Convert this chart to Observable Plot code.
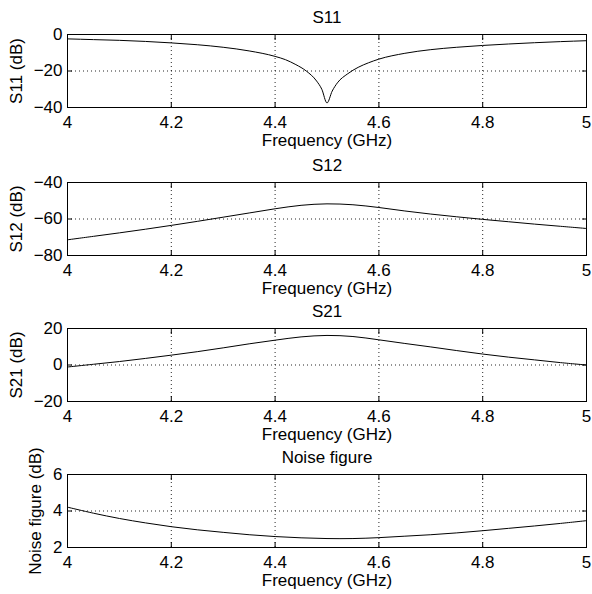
<!DOCTYPE html>
<html><head><meta charset="utf-8">
<script src="https://cdn.jsdelivr.net/npm/d3@7"></script>
<script src="https://cdn.jsdelivr.net/npm/@observablehq/plot@0.6"></script>
<style>
body{margin:0;background:#fff;}
#c{position:relative;width:592px;height:594px;overflow:hidden;}
#c svg{position:absolute;left:0;}
</style></head><body><div id="c"></div>
<script>
// Frequencies (GHz)
const freqS11 = [4.00,4.05,4.10,4.15,4.20,4.25,4.30,4.35,4.40,4.42,4.44,4.46,4.48,4.49,4.50,4.51,4.52,4.54,4.56,4.58,4.60,4.65,4.70,4.75,4.80,4.85,4.90,4.95,5.00];
const s11 = [-2.4,-2.8,-3.2,-3.8,-4.6,-5.6,-7.0,-9.0,-12.0,-13.8,-16.5,-20.0,-25.5,-30.0,-37.5,-31.0,-26.5,-21.5,-18.0,-15.5,-13.5,-10.3,-8.3,-7.0,-6.0,-5.2,-4.5,-3.9,-3.4];
const freq = [4.00,4.05,4.10,4.15,4.20,4.25,4.30,4.35,4.40,4.45,4.50,4.55,4.60,4.65,4.70,4.75,4.80,4.85,4.90,4.95,5.00];
const s12 = [-71.4,-69.5,-67.6,-65.6,-63.5,-61.3,-59.0,-56.7,-54.4,-52.5,-51.7,-52.2,-53.7,-55.6,-57.3,-58.8,-60.2,-61.5,-62.8,-64.0,-65.2];
const s21 = [-1.1,0.4,1.9,3.6,5.4,7.3,9.4,11.6,13.6,15.4,16.2,15.6,13.8,11.8,9.9,7.9,6.0,4.3,2.8,1.3,0.0];
const nf = [4.21,3.88,3.59,3.35,3.14,2.97,2.83,2.70,2.60,2.53,2.49,2.49,2.54,2.62,2.70,2.80,2.92,3.05,3.18,3.32,3.47];
const xTicks = [4, 4.2, 4.4, 4.6, 4.8, 5];
const titles = ["S11", "S12", "S21", "Noise figure"];
const yLabels = ["S11 (dB)", "S12 (dB)", "S21 (dB)", "Noise figure (dB)"];
const yTicksS11 = [-40, -20, 0];
const yTicksS12 = [-80, -60, -40];
const yTicksS21 = [-20, 0, 20];
const yTicksNF = [2, 4, 6];
const xLabel = "Frequency (GHz)";

const panels = [
  {title: titles[0], ylabel: yLabels[0], x: freqS11, y: s11, ticks: yTicksS11, top: 0, ylDx: -50.5, curve: "monotone-x"},
  {title: titles[1], ylabel: yLabels[1], x: freq, y: s12, ticks: yTicksS12, top: 148, ylDx: -50.5, curve: "catmull-rom"},
  {title: titles[2], ylabel: yLabels[2], x: freq, y: s21, ticks: yTicksS21, top: 294, ylDx: -50.5, curve: "catmull-rom"},
  {title: titles[3], ylabel: yLabels[3], x: freq, y: nf, ticks: yTicksNF, top: 440, ylDx: -32, curve: "catmull-rom"}
];

const fmt = d => (d < 0 ? "\u2212" : "") + Math.abs(d);
const container = document.getElementById("c");
const gridStyle = {stroke: "black", strokeOpacity: 0.85, strokeDasharray: "1,3", strokeWidth: 1};

for (const p of panels) {
  const data = p.x.map((x, i) => ({x, y: p.y[i]}));
  const svg = Plot.plot({
    width: 592, height: 154,
    marginLeft: 67, marginRight: 6, marginTop: 34, marginBottom: 47,
    style: {fontFamily: "'Liberation Sans', Arial, Helvetica, sans-serif", fontSize: "17px", background: "transparent", overflow: "visible", color: "black"},
    x: {domain: [4, 5]},
    y: {domain: [p.ticks[0], p.ticks[p.ticks.length - 1]]},
    marks: [
      Plot.gridX(xTicks.slice(1, -1), gridStyle),
      Plot.gridY(p.ticks.slice(1, -1), gridStyle),
      Plot.axisX(xTicks, {anchor: "bottom", tickSize: 0, tickPadding: 8, tickFormat: fmt, label: null}),
      Plot.axisX(xTicks, {anchor: "bottom", tickSize: -5, tickFormat: () => "", label: null}),
      Plot.axisX(xTicks, {anchor: "top", tickSize: -5, tickFormat: () => "", label: null}),
      Plot.axisY(p.ticks, {anchor: "left", tickSize: 0, tickPadding: 5, tickFormat: fmt, label: null}),
      Plot.axisY(p.ticks, {anchor: "left", tickSize: -5, tickFormat: () => "", label: null}),
      Plot.axisY(p.ticks, {anchor: "right", tickSize: -5, tickFormat: () => "", label: null}),
      Plot.line(data, {x: "x", y: "y", stroke: "black", strokeWidth: 1, curve: p.curve}),
      Plot.frame({stroke: "black", strokeWidth: 1}),
      Plot.text([p.title], {text: d => d, frameAnchor: "top", lineAnchor: "middle", dy: -17}),
      Plot.text([xLabel], {text: d => d, frameAnchor: "bottom", lineAnchor: "middle", dy: 33}),
      Plot.text([p.ylabel], {text: d => d, frameAnchor: "left", textAnchor: "middle", lineAnchor: "middle", rotate: -90, dx: p.ylDx})
    ]
  });
  svg.style.top = p.top + "px";
  container.appendChild(svg);
}
</script>
</body></html>
